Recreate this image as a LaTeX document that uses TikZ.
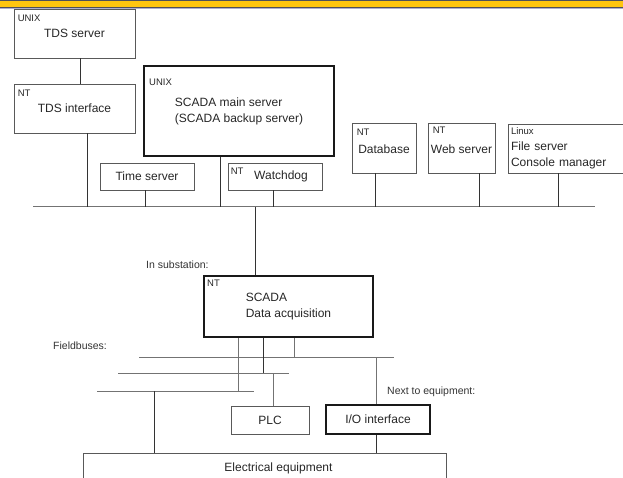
\documentclass[tikz,border=0pt]{standalone}
\usepackage{fontspec}
\setmainfont{Liberation Sans}
\definecolor{bandyellow}{RGB}{255,197,15}
\definecolor{bandline}{RGB}{80,80,90}
\definecolor{bandlight}{RGB}{175,175,205}
\tikzset{
	box/.style={draw=black!65,line width=0.9pt,inner sep=0pt,align=center,font=\fontsize{12}{16}\selectfont,text=black!85},
	bigbox/.style={box,draw=black!90,line width=2pt},
	ostag/.style={anchor=north west,inner sep=0pt,xshift=4pt,yshift=-6pt,font=\fontsize{9.5}{11}\selectfont,text=black!85},
	note/.style={anchor=west,inner sep=0pt,font=\fontsize{10.5}{12}\selectfont,text=black!80},
	bus/.style={draw=black!55,line width=1pt},
	link/.style={draw=black!80,line width=0.9pt}
}
\begin{document}
\begin{tikzpicture}[x=1pt,y=-1pt]
	\useasboundingbox (0,0) rectangle (623,478);
	\clip (0,0) rectangle (623,478);
	% band at the top
	\fill[bandyellow] (0,1) rectangle (623,7);
	\draw[bandline,line width=1pt] (0,0.5)--(623,0.5) (0,7.5)--(623,7.5);
	\draw[bandlight,line width=1pt] (0,8.5)--(623,8.5);
	% control centre
	\node[box,minimum width=121pt,minimum height=49pt] (tdssrv) at (74.5,33.5) {TDS server};
	\node[box,minimum width=121pt,minimum height=49pt] (tdsif) at (74.5,108.5) {TDS interface};
	\node[bigbox,minimum width=190pt,minimum height=90pt,align=left] (mainsrv) at (239,111) {SCADA main server\\(SCADA backup server)};
	\node[box,minimum width=94pt,minimum height=27pt] (timesrv) at (147,176.5) {Time server};
	\node[box,minimum width=94pt,minimum height=27pt] (watchdog) at (275,176.5) {\hspace*{12pt}Watchdog};
	\node[box,minimum width=64pt,minimum height=50pt] (database) at (384,148) {\\[-4pt]Database};
	\node[box,minimum width=67pt,minimum height=50pt] (websrv) at (461.5,148) {\\[-4pt]Web server};
	\node[box,minimum width=120pt,minimum height=49pt,text width=114pt,align=left] (linux) at (568,148.5) {{\fontsize{9.5}{11}\selectfont Linux}\\File server\\Console manager};
	\node[ostag] (tdssrvos) at (tdssrv.north west) {UNIX};
	\node[ostag] (tdsifos) at (tdsif.north west) {NT};
	\node[ostag,xshift=2pt,yshift=-8pt] (mainsrvos) at (mainsrv.north west) {UNIX};
	\node[ostag,xshift=-1pt,yshift=1pt] (watchdogos) at (watchdog.north west) {NT};
	\node[ostag,xshift=1pt] (databaseos) at (database.north west) {NT};
	\node[ostag,xshift=1pt,yshift=2pt] (websrvos) at (websrv.north west) {NT};
	\draw[link] ([xshift=5.5pt]tdssrv.south) -- ([xshift=5.5pt]tdsif.north);
	% network
	\coordinate (b1) at (33,207);
	\coordinate (b2) at (595,207);
	\draw[bus] (b1) -- (b2);
	\coordinate (t1) at (87,207);
	\coordinate (t2) at (145,207);
	\coordinate (t3) at (220,207);
	\coordinate (t4) at (273,207);
	\coordinate (t5) at (255,207);
	\coordinate (t6) at (375,207);
	\coordinate (t7) at (479,207);
	\coordinate (t8) at (558,207);
	\foreach \n/\t in {tdsif/t1,timesrv/t2,mainsrv/t3,watchdog/t4,database/t6,websrv/t7,linux/t8}
		\draw[link] (\n.south -| \t) -- (\t);
	% substation
	\node[note] (insub) at (146,265) {In substation:};
	\node[bigbox,minimum width=169pt,minimum height=61pt,align=left] (scadada) at (288.5,306.5) {SCADA\\Data acquisition};
	\node[ostag,yshift=1pt] (scadadaos) at (scadada.north west) {NT};
	\draw[link] (t5) -- (t5 |- scadada.north);
	\node[note] (fieldbus) at (53,346) {Fieldbuses:};
	\coordinate (f1a) at (139,357); \coordinate (f1b) at (394,357);
	\coordinate (f2a) at (118,373); \coordinate (f2b) at (289,373);
	\coordinate (f3a) at (97,391); \coordinate (f3b) at (254,391);
	\foreach \a/\b in {f1a/f1b,f2a/f2b,f3a/f3b}
		\draw[bus] (\a) -- (\b);
	\coordinate (d1) at (238,391);
	\coordinate (d2) at (263,373);
	\coordinate (d3) at (294,357);
	\draw[bus] (scadada.south -| d1) -- (d1);
	\draw[link] (scadada.south -| d2) -- (d2);
	\draw[bus] (scadada.south -| d3) -- (d3);
	% equipment
	\node[box,minimum width=78pt,minimum height=28pt] (plc) at (270,420) {PLC};
	\node[bigbox,minimum width=104pt,minimum height=29pt] (ioif) at (378,419.5) {I/O interface};
	\node[note] (nexteq) at (387,392) {Next to equipment:};
	\node[box,minimum width=363pt,minimum height=31pt] (elec) at (264.5,468.5) {\hspace*{28pt}Electrical equipment};
	\coordinate (p1) at (273,373);
	\coordinate (io1) at (376,357);
	\coordinate (e1) at (154,391);
	\draw[bus] (p1) -- (p1 |- plc.north);
	\draw[bus] (io1) -- (io1 |- ioif.north);
	\draw[link] (ioif.south -| io1) -- (io1 |- elec.north);
	\draw[link] (e1) -- (e1 |- elec.north);
\end{tikzpicture}
\end{document}
